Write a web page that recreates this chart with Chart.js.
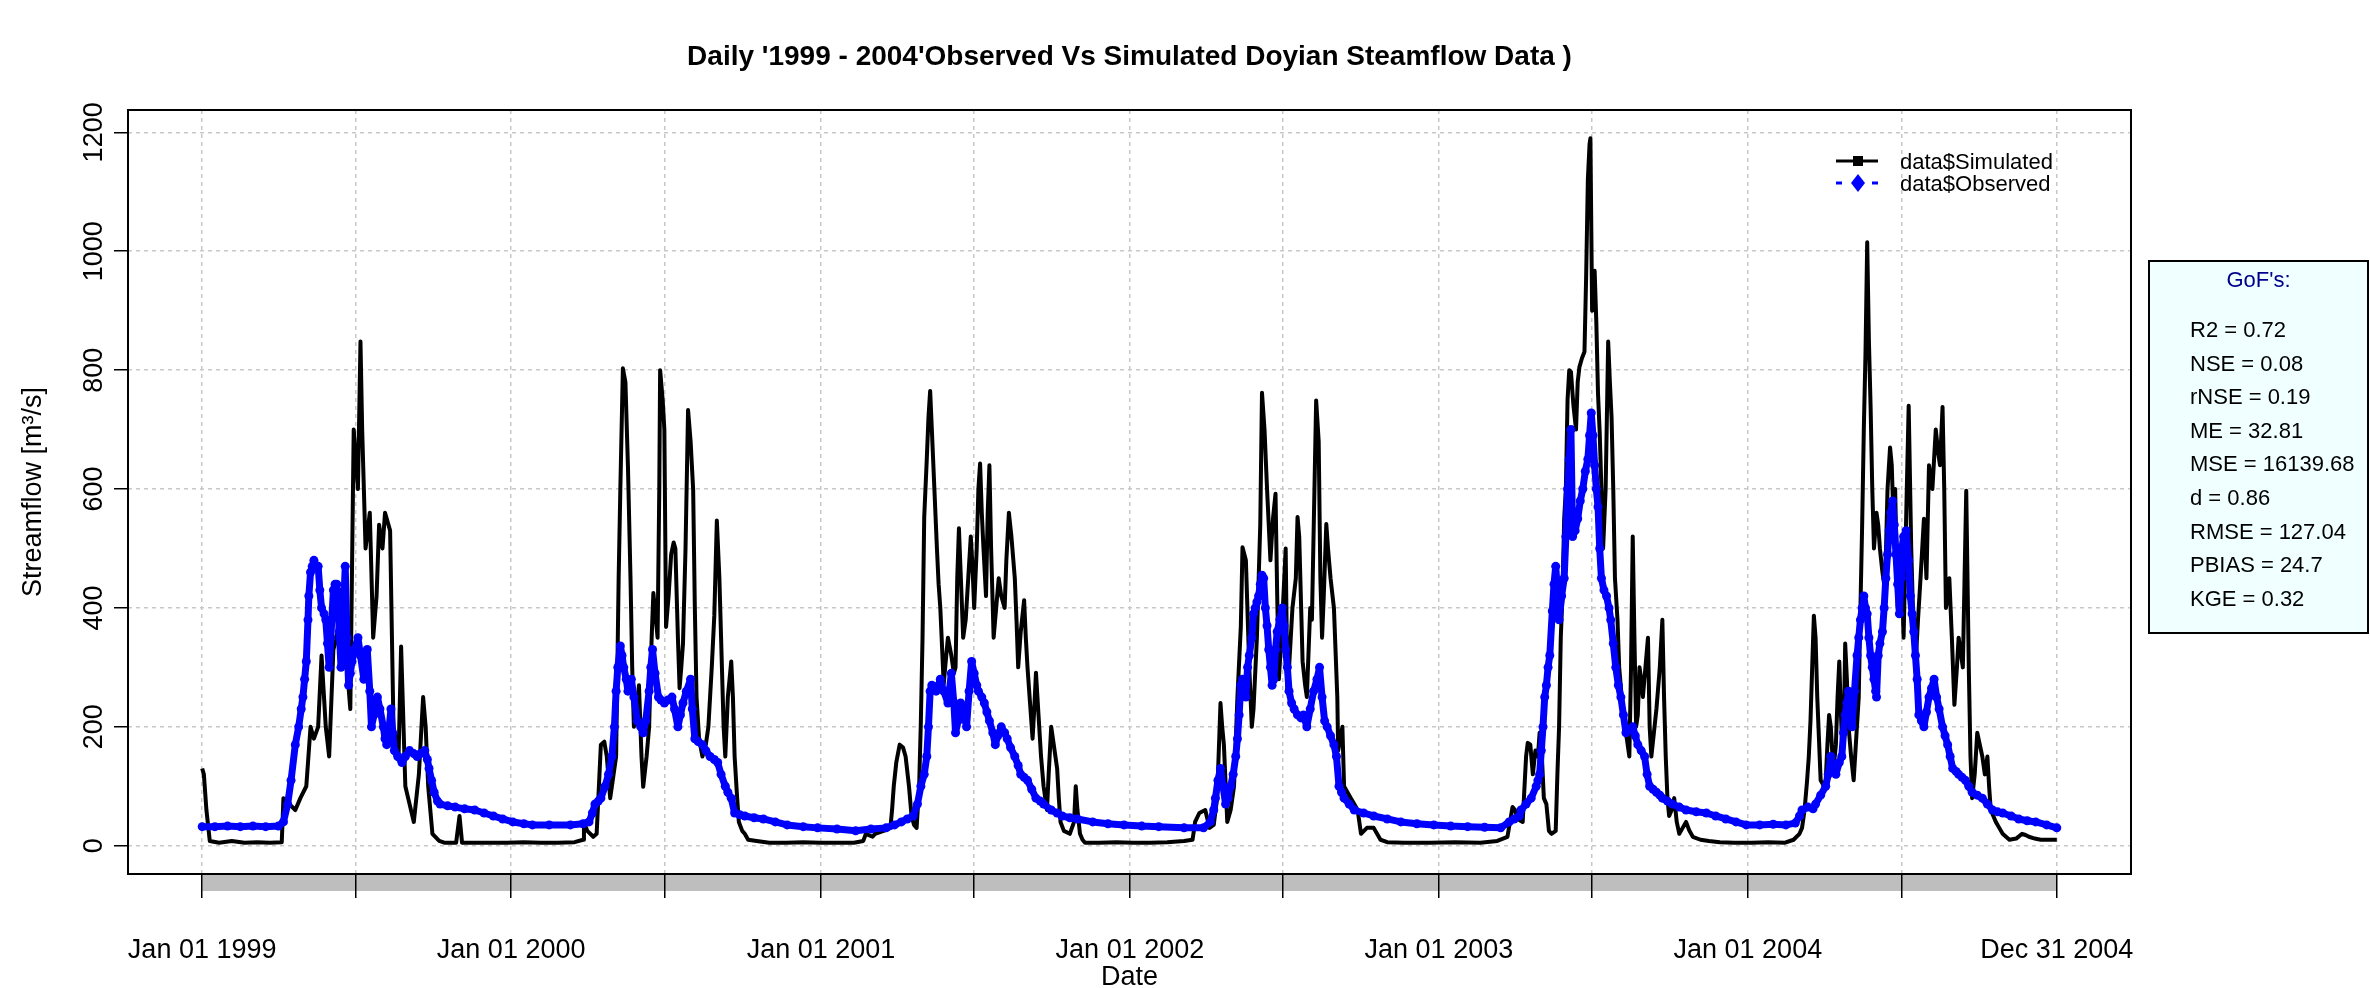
<!DOCTYPE html>
<html>
<head>
<meta charset="utf-8">
<title>Observed vs Simulated Streamflow</title>
<script src="https://cdn.jsdelivr.net/npm/chart.js@4.4.1/dist/chart.umd.min.js"></script>
<style>
  html, body { margin: 0; padding: 0; background: #fff; }
  #wrap { position: relative; width: 2370px; height: 988px; }
</style>
</head>
<body>
<div id="wrap"><canvas id="chart"></canvas></div>
<script>
const chartTitle = "Daily '1999 - 2004'Observed Vs Simulated Doyian Steamflow Data )";

// [day since Jan 01 1999, flow m3/s]
const simulated = [
  [0,130],[2,120],[5,60],[9,8],[20,5],[35,8],[50,5],[65,6],[80,5],[94,6],[96,80],[103,70],[110,60],[116,80],
  [123,100],[128,200],[132,180],[137,200],[141,320],[146,200],[150,150],[155,330],[159,350],[164,430],[171,300],
  [175,230],[179,700],[184,600],[187,848],[189,700],[191,600],[193,500],[198,560],[202,350],[206,420],[209,540],
  [213,500],[216,560],[222,530],[226,200],[232,150],[235,335],[240,100],[245,70],[250,40],[256,120],[261,250],
  [264,200],[267,100],[272,20],[280,8],[286,5],[300,5],[304,50],[307,5],[330,5],[360,5],[380,6],[400,5],[420,5],
  [440,6],[450,10],[451,40],[455,25],[462,15],[466,20],[471,170],[475,175],[478,150],[482,80],[486,120],[489,150],
  [492,450],[494,600],[497,803],[500,780],[503,637],[506,450],[508,300],[510,200],[513,220],[516,270],[519,150],
  [521,99],[525,150],[528,200],[531,350],[533,425],[536,380],[538,350],[540,600],[541,800],[544,750],[546,700],
  [548,368],[551,420],[554,490],[557,510],[559,500],[562,350],[564,265],[566,300],[568,340],[571,500],[574,733],
  [577,680],[580,600],[582,400],[584,250],[587,180],[591,150],[595,170],[598,200],[602,300],[605,387],[608,547],
  [611,450],[614,300],[616,200],[618,150],[621,250],[625,310],[627,250],[629,150],[632,80],[634,40],[638,25],
  [641,20],[645,10],[655,8],[670,5],[690,5],[710,6],[730,5],[750,5],[770,5],[781,8],[784,20],[792,15],[795,20],
  [805,25],[813,30],[815,60],[817,100],[820,140],[824,170],[828,165],[831,150],[835,100],[838,50],[841,35],
  [844,30],[847,100],[849,208],[851,350],[853,553],[856,650],[858,720],[860,765],[862,700],[865,600],[868,500],
  [870,440],[872,400],[876,272],[879,320],[881,350],[885,320],[888,290],[890,300],[892,450],[894,534],[896,460],
  [899,350],[902,380],[905,450],[908,520],[910,470],[912,400],[915,500],[917,600],[919,643],[921,560],[923,500],
  [926,420],[928,560],[930,640],[932,500],[935,350],[938,400],[941,450],[944,420],[948,400],[950,480],[953,560],
  [956,520],[960,450],[962,380],[964,300],[967,360],[971,413],[973,350],[975,300],[978,240],[981,180],[983,230],
  [985,291],[988,220],[991,150],[994,100],[998,60],[1000,120],[1003,200],[1006,170],[1010,130],[1012,80],
  [1014,40],[1018,25],[1025,20],[1030,40],[1032,100],[1034,60],[1037,20],[1040,10],[1043,5],[1060,5],[1080,6],
  [1100,5],[1120,5],[1140,6],[1160,8],[1170,10],[1173,40],[1178,55],[1185,60],[1190,30],[1195,35],[1199,80],
  [1203,240],[1205,200],[1207,170],[1211,40],[1215,60],[1219,100],[1223,250],[1227,368],[1229,502],[1233,480],
  [1237,300],[1240,200],[1242,230],[1246,350],[1250,541],[1252,762],[1255,700],[1258,600],[1262,480],[1265,550],
  [1268,592],[1270,420],[1272,280],[1276,380],[1280,500],[1282,260],[1284,300],[1288,400],[1292,450],[1294,553],
  [1296,520],[1300,310],[1303,270],[1305,250],[1309,400],[1311,380],[1314,600],[1316,749],[1319,680],[1321,450],
  [1323,350],[1325,420],[1328,541],[1330,500],[1333,450],[1337,400],[1341,250],[1342,160],[1347,200],[1349,100],
  [1353,90],[1357,80],[1361,70],[1365,60],[1369,20],[1376,30],[1384,30],[1392,10],[1400,6],[1420,5],[1450,5],
  [1480,6],[1510,5],[1530,8],[1542,15],[1548,65],[1551,60],[1554,45],[1560,40],[1564,150],[1566,173],[1569,170],
  [1572,120],[1575,160],[1578,150],[1580,190],[1582,170],[1585,80],[1588,70],[1591,25],[1594,20],[1599,25],
  [1601,120],[1603,200],[1605,350],[1607,420],[1609,550],[1611,600],[1613,750],[1615,800],[1617,797],[1620,740],
  [1623,700],[1625,780],[1627,805],[1630,820],[1633,831],[1635,960],[1637,1121],[1639,1180],[1640,1190],[1642,900],
  [1645,967],[1647,880],[1649,760],[1651,694],[1653,600],[1655,500],[1658,600],[1661,848],[1663,780],[1665,720],
  [1667,600],[1669,450],[1672,380],[1674,300],[1677,250],[1680,200],[1683,180],[1686,150],[1688,300],[1690,520],
  [1692,350],[1694,200],[1696,220],[1698,300],[1700,280],[1702,250],[1705,300],[1708,350],[1710,200],[1712,150],
  [1715,190],[1718,230],[1722,300],[1725,380],[1727,250],[1729,150],[1731,80],[1733,50],[1736,60],[1739,80],
  [1742,40],[1745,20],[1749,30],[1753,40],[1757,25],[1761,15],[1770,10],[1780,8],[1793,6],[1810,5],[1830,5],
  [1850,6],[1870,5],[1880,10],[1887,20],[1890,30],[1893,60],[1896,110],[1898,150],[1900,210],[1902,300],[1904,387],
  [1906,350],[1908,250],[1910,180],[1912,110],[1916,100],[1918,110],[1920,170],[1922,220],[1924,200],[1926,150],
  [1928,140],[1930,170],[1932,250],[1934,310],[1936,220],[1938,150],[1940,250],[1941,340],[1943,280],[1945,200],
  [1948,150],[1951,110],[1954,180],[1957,250],[1959,400],[1961,537],[1963,700],[1965,829],[1967,1015],[1969,850],
  [1971,739],[1973,600],[1975,500],[1978,560],[1980,540],[1982,500],[1985,460],[1988,430],[1991,600],[1994,670],
  [1996,640],[1998,550],[2000,600],[2003,400],[2005,460],[2007,500],[2010,350],[2013,550],[2016,740],[2019,500],
  [2021,400],[2024,300],[2027,380],[2030,450],[2034,550],[2037,450],[2040,640],[2042,620],[2044,600],[2046,650],
  [2048,700],[2051,660],[2053,640],[2056,738],[2058,600],[2060,400],[2062,420],[2064,450],[2067,350],[2070,237],
  [2073,300],[2075,350],[2078,320],[2080,300],[2082,450],[2084,597],[2086,400],[2087,300],[2089,150],[2091,80],
  [2094,120],[2097,190],[2100,170],[2103,150],[2106,120],[2109,150],[2111,100],[2113,60],[2116,50],[2119,40],
  [2123,30],[2127,20],[2131,15],[2135,10],[2143,12],[2150,20],[2154,18],[2158,15],[2165,12],[2172,10],[2180,10],
  [2186,10],[2191,10]
];

const observed = [
  [0,32],[15,32],[30,33],[45,32],[60,33],[75,32],[90,33],[96,40],[101,70],[105,110],[110,170],[114,200],[117,230],
  [119,250],[121,280],[123,310],[125,380],[126,420],[128,460],[130,470],[132,480],[135,470],[137,470],[139,430],
  [141,400],[144,390],[146,380],[148,340],[150,300],[152,350],[155,430],[157,440],[159,440],[162,360],[164,300],
  [167,400],[169,470],[171,350],[173,270],[175,290],[177,310],[180,330],[184,350],[187,320],[191,280],[193,310],
  [195,330],[198,260],[200,200],[203,220],[207,250],[210,230],[214,200],[216,180],[218,170],[221,200],[223,230],
  [225,190],[227,160],[231,150],[236,140],[240,150],[245,160],[250,155],[254,150],[258,155],[263,160],[266,145],
  [268,130],[271,110],[274,90],[278,75],[281,70],[290,67],[299,65],[310,62],[322,60],[333,55],[344,50],[355,45],
  [367,40],[380,37],[390,35],[410,35],[435,35],[450,37],[457,40],[461,55],[464,70],[468,75],[471,80],[476,100],
  [480,120],[484,150],[487,200],[489,260],[491,300],[494,336],[496,320],[498,300],[501,280],[503,260],[505,270],
  [507,280],[510,250],[514,210],[518,200],[521,190],[524,210],[528,260],[530,300],[532,330],[535,290],[539,250],
  [542,245],[546,240],[550,245],[555,250],[558,230],[562,200],[565,220],[568,240],[572,260],[577,280],[579,230],
  [582,180],[586,175],[591,170],[595,160],[600,150],[605,145],[609,140],[613,120],[618,100],[621,90],[625,80],
  [629,55],[635,52],[641,50],[652,47],[663,45],[677,40],[691,35],[710,32],[727,30],[750,28],[772,25],[790,28],
  [808,30],[818,35],[826,40],[833,45],[840,50],[845,70],[849,100],[853,120],[856,150],[858,200],[860,260],
  [862,270],[865,265],[867,260],[870,270],[872,280],[876,260],[881,240],[885,290],[888,240],[890,190],[893,210],
  [896,240],[900,220],[903,200],[906,260],[909,310],[912,290],[915,270],[917,260],[921,250],[924,240],[927,225],
  [930,210],[934,190],[937,170],[940,185],[944,200],[948,190],[951,180],[955,165],[960,150],[964,135],[967,120],
  [971,115],[975,110],[980,95],[985,80],[990,75],[994,70],[1003,60],[1010,55],[1016,50],[1025,47],[1034,45],
  [1052,40],[1070,37],[1089,35],[1110,33],[1130,32],[1160,30],[1183,30],[1191,40],[1195,60],[1197,80],[1200,110],
  [1203,130],[1206,100],[1209,70],[1212,80],[1215,100],[1218,120],[1221,150],[1223,180],[1225,220],[1227,270],
  [1229,280],[1231,260],[1233,250],[1235,300],[1237,320],[1240,350],[1242,390],[1244,400],[1246,410],[1248,420],
  [1250,440],[1252,455],[1254,450],[1256,400],[1258,370],[1260,330],[1262,300],[1264,270],[1266,280],[1268,330],
  [1270,360],[1273,380],[1276,400],[1278,370],[1280,330],[1282,300],[1284,260],[1287,240],[1290,230],[1294,220],
  [1298,215],[1301,220],[1305,200],[1309,230],[1313,260],[1317,280],[1320,300],[1323,250],[1326,210],[1329,200],
  [1333,185],[1337,170],[1340,150],[1343,100],[1346,90],[1349,80],[1355,70],[1361,60],[1372,55],[1384,50],
  [1400,45],[1416,40],[1435,37],[1455,35],[1475,33],[1495,32],[1515,31],[1534,30],[1544,40],[1550,45],[1556,50],
  [1558,60],[1564,70],[1570,80],[1576,100],[1578,110],[1580,120],[1582,160],[1584,200],[1586,250],[1588,270],
  [1590,300],[1592,320],[1595,395],[1597,440],[1599,470],[1601,430],[1603,380],[1606,420],[1609,450],[1611,520],
  [1613,600],[1615,650],[1617,700],[1619,520],[1622,530],[1625,550],[1628,580],[1631,600],[1634,630],[1637,650],
  [1639,690],[1641,728],[1643,690],[1645,640],[1647,600],[1649,570],[1651,500],[1653,450],[1656,430],[1659,420],
  [1662,400],[1664,380],[1667,340],[1670,300],[1673,270],[1676,250],[1679,220],[1682,190],[1686,195],[1690,200],
  [1693,185],[1696,170],[1700,160],[1704,150],[1707,120],[1710,100],[1714,95],[1718,90],[1722,85],[1725,80],
  [1731,75],[1737,70],[1745,65],[1753,60],[1765,57],[1777,55],[1788,50],[1800,45],[1812,40],[1824,35],[1840,35],
  [1856,36],[1871,35],[1882,38],[1887,50],[1890,60],[1897,65],[1903,62],[1906,70],[1912,85],[1918,100],[1921,120],
  [1924,150],[1927,130],[1930,120],[1934,140],[1937,150],[1939,190],[1941,220],[1943,240],[1945,260],[1947,230],
  [1949,200],[1952,260],[1955,320],[1957,350],[1959,380],[1961,400],[1963,420],[1965,400],[1967,390],[1969,350],
  [1971,320],[1973,300],[1975,280],[1977,260],[1978,250],[1980,320],[1982,340],[1985,360],[1987,400],[1989,450],
  [1991,490],[1993,530],[1995,560],[1997,580],[1999,540],[2001,490],[2003,440],[2005,390],[2007,450],[2008,500],
  [2010,520],[2013,530],[2016,480],[2018,420],[2020,390],[2022,360],[2024,320],[2026,280],[2028,220],[2031,210],
  [2034,200],[2037,225],[2040,250],[2043,265],[2046,280],[2049,250],[2052,230],[2056,200],[2059,185],[2062,170],
  [2065,150],[2068,130],[2072,125],[2075,120],[2079,115],[2083,110],[2087,100],[2091,90],[2097,85],[2103,80],
  [2109,70],[2115,60],[2121,57],[2127,55],[2137,50],[2146,45],[2156,42],[2166,40],[2179,35],[2191,30]
];

const xTickDays = [0, 181, 365, 547, 731, 912, 1096, 1277, 1461, 1642, 1826, 2008, 2191];
const xTickLabels = ["Jan 01 1999", "", "Jan 01 2000", "", "Jan 01 2001", "", "Jan 01 2002", "",
                     "Jan 01 2003", "", "Jan 01 2004", "", "Dec 31 2004"];
const yTicks = [0, 200, 400, 600, 800, 1000, 1200];
const seriesNames = ["data$Simulated", "data$Observed"];
const gofTitle = "GoF's:";
const gofLines = ["R2 = 0.72", "NSE = 0.08", "rNSE = 0.19", "ME = 32.81", "MSE = 16139.68",
                  "d = 0.86", "RMSE = 127.04", "PBIAS = 24.7", "KGE = 0.32"];

const FONT = "'Liberation Sans', Arial, sans-serif";

// R style axis ranges: data range widened by 4%
const xFirst = xTickDays[0], xLast = xTickDays[xTickDays.length - 1];
const xPad = 0.04 * (xLast - xFirst);
const allFlows = simulated.concat(observed).map(p => p[1]);
const yHi = Math.max(...allFlows), yLo = 0;
const yPad = 0.04 * (yHi - yLo);

const rFrame = {
  id: "rFrame",
  beforeDraw(chart) {
    const { ctx, chartArea: a, scales: { x } } = chart;
    const x0 = x.getPixelForValue(xFirst), x1 = x.getPixelForValue(xLast);
    ctx.save();
    ctx.fillStyle = "#bebebe";
    ctx.fillRect(x0, a.bottom, x1 - x0, 17);
    ctx.restore();
  },
  afterDraw(chart) {
    const { ctx, chartArea: a, scales: { y } } = chart;
    ctx.save();

    // plot box
    ctx.strokeStyle = "#000";
    ctx.lineWidth = 2;
    ctx.strokeRect(a.left, a.top, a.right - a.left, a.bottom - a.top);

    // y tick labels, parallel to axis
    ctx.fillStyle = "#000";
    ctx.font = "27px " + FONT;
    ctx.textAlign = "center";
    ctx.textBaseline = "alphabetic";
    y.ticks.forEach(t => {
      ctx.save();
      ctx.translate(a.left - 26, y.getPixelForValue(t.value));
      ctx.rotate(-Math.PI / 2);
      ctx.fillText(String(t.value), 0, 0);
      ctx.restore();
    });

    // main title
    ctx.font = "bold 28px " + FONT;
    ctx.textBaseline = "middle";
    ctx.fillText(chartTitle, (a.left + a.right) / 2, 57);

    // legend
    const lx = 1836, ly = 161;
    ctx.lineWidth = 3;
    ctx.strokeStyle = "#000";
    ctx.beginPath(); ctx.moveTo(lx, ly); ctx.lineTo(lx + 42, ly); ctx.stroke();
    ctx.fillStyle = "#000";
    ctx.fillRect(lx + 17, ly - 5, 10, 10);
    ctx.strokeStyle = "#0000ff";
    ctx.setLineDash([6, 12]);
    ctx.beginPath(); ctx.moveTo(lx, ly + 22); ctx.lineTo(lx + 42, ly + 22); ctx.stroke();
    ctx.setLineDash([]);
    ctx.fillStyle = "#0000ff";
    ctx.beginPath();
    ctx.moveTo(lx + 22, ly + 13); ctx.lineTo(lx + 29, ly + 22);
    ctx.lineTo(lx + 22, ly + 31); ctx.lineTo(lx + 15, ly + 22);
    ctx.closePath(); ctx.fill();
    ctx.fillStyle = "#000";
    ctx.font = "22px " + FONT;
    ctx.textAlign = "left";
    ctx.fillText(seriesNames[0], lx + 64, ly + 2);
    ctx.fillText(seriesNames[1], lx + 64, ly + 24);

    // GoF box
    const gx = 2149, gy = 261, gw = 219, gh = 372;
    ctx.fillStyle = "#f0ffff";
    ctx.fillRect(gx, gy, gw, gh);
    ctx.lineWidth = 2;
    ctx.strokeStyle = "#000";
    ctx.strokeRect(gx, gy, gw, gh);
    ctx.fillStyle = "#00008b";
    ctx.textAlign = "center";
    ctx.fillText(gofTitle, gx + gw / 2, gy + 20);
    ctx.fillStyle = "#000";
    ctx.textAlign = "left";
    gofLines.forEach((s, i) => ctx.fillText(s, gx + 41, gy + 70 + i * 33.6));

    ctx.restore();
  }
};

const gridOpts = { color: "#c8c8c8", lineWidth: 1.5, tickColor: "#000", tickWidth: 1.5 };

new Chart(document.getElementById("chart").getContext("2d"), {
  type: "line",
  data: {
    datasets: [
      {
        label: seriesNames[1],
        data: observed.map(p => ({ x: p[0], y: p[1] })),
        borderColor: "#0000ff",
        backgroundColor: "#0000ff",
        borderWidth: 7,
        borderJoinStyle: "round",
        borderCapStyle: "round",
        pointRadius: 4.5,
        pointBorderWidth: 0,
        order: 0
      },
      {
        label: seriesNames[0],
        data: simulated.map(p => ({ x: p[0], y: p[1] })),
        borderColor: "#000",
        borderWidth: 4,
        borderJoinStyle: "round",
        pointRadius: 0,
        order: 1
      }
    ]
  },
  plugins: [rFrame],
  options: {
    responsive: true,
    maintainAspectRatio: false,
    animation: false,
    layout: { padding: { top: 110, right: 239, left: 0, bottom: 0 } },
    plugins: {
      legend: { display: false },
      tooltip: { enabled: false }
    },
    scales: {
      x: {
        type: "linear",
        min: xFirst - xPad,
        max: xLast + xPad,
        afterFit(s) { s.height = 114; },
        afterBuildTicks(s) { s.ticks = xTickDays.map(v => ({ value: v })); },
        ticks: {
          autoSkip: false, minRotation: 0, maxRotation: 0, padding: 36, color: "#000",
          font: { family: FONT, size: 27 },
          callback: (v, i) => xTickLabels[i]
        },
        grid: Object.assign({ tickLength: 24 }, gridOpts),
        border: { display: false, dash: [4, 4] },
        title: { display: true, text: "Date", color: "#000", padding: 0,
                 font: { family: FONT, size: 27, lineHeight: 0.8 } }
      },
      y: {
        min: yLo - yPad,
        max: yHi + yPad,
        afterFit(s) { s.width = 128; },
        afterBuildTicks(s) { s.ticks = yTicks.map(v => ({ value: v })); },
        ticks: { display: false },
        grid: Object.assign({ tickLength: 14 }, gridOpts),
        border: { display: false, dash: [4, 4] },
        title: { display: true, text: "Streamflow [m³/s]", color: "#000",
                 padding: { top: 17, bottom: 0 }, font: { family: FONT, size: 27 } }
      }
    }
  }
});
</script>
</body>
</html>
